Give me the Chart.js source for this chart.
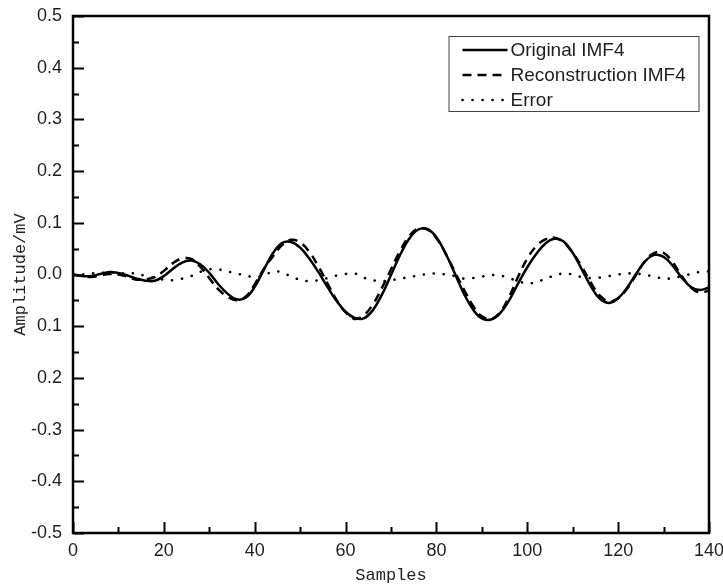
<!DOCTYPE html>
<html>
<head>
<meta charset="utf-8">
<script src="https://cdn.jsdelivr.net/npm/chart.js@4.4.1/dist/chart.umd.min.js"></script>
<style>
  html, body { margin: 0; padding: 0; background: #fff; }
  #wrap { width: 723px; height: 586px; position: relative; }
</style>
</head>
<body>
<div id="wrap"><canvas id="c" width="723" height="586"></canvas></div>
<script>
// ---- data ----
const samples = [0,2,4,6,8,10,12,14,16,18,20,22,24,26,28,30,32,34,36,38,40,42,44,46,48,50,52,54,56,58,60,62,64,66,68,70,72,74,76,78,80,82,84,86,88,90,92,94,96,98,100,102,104,106,108,110,112,114,116,118,120,122,124,126,128,130,132,134,136,138,140];

const originalIMF4 = [0.000,-0.003,-0.003,0.001,0.005,0.003,-0.002,-0.008,-0.012,-0.012,-0.003,0.011,0.023,0.027,0.020,0.003,-0.019,-0.037,-0.048,-0.045,-0.024,0.009,0.041,0.061,0.063,0.052,0.031,0.005,-0.024,-0.051,-0.072,-0.084,-0.085,-0.069,-0.039,-0.001,0.038,0.069,0.087,0.088,0.072,0.041,0.003,-0.036,-0.067,-0.085,-0.087,-0.075,-0.050,-0.017,0.014,0.040,0.060,0.069,0.064,0.042,0.010,-0.023,-0.047,-0.055,-0.046,-0.025,0.002,0.026,0.038,0.034,0.017,-0.006,-0.024,-0.030,-0.025];

const reconstructionIMF4 = [0.000,-0.003,-0.005,-0.002,0.001,0.000,-0.004,-0.010,-0.009,-0.005,0.007,0.022,0.031,0.030,0.015,-0.007,-0.029,-0.043,-0.050,-0.043,-0.019,0.011,0.035,0.057,0.067,0.062,0.044,0.016,-0.017,-0.049,-0.073,-0.086,-0.079,-0.058,-0.026,0.010,0.046,0.074,0.089,0.087,0.070,0.041,0.006,-0.028,-0.060,-0.081,-0.086,-0.073,-0.043,-0.004,0.031,0.055,0.068,0.071,0.062,0.042,0.015,-0.016,-0.041,-0.052,-0.046,-0.027,0.000,0.027,0.042,0.042,0.024,-0.003,-0.025,-0.035,-0.031];

const errorSeries = [0.000,0.000,0.002,0.003,0.004,0.003,0.002,0.002,-0.003,-0.007,-0.010,-0.011,-0.008,-0.003,0.005,0.010,0.010,0.006,0.002,-0.002,-0.005,-0.002,0.006,0.004,-0.004,-0.010,-0.013,-0.011,-0.007,-0.002,0.001,0.002,-0.006,-0.011,-0.013,-0.011,-0.008,-0.005,-0.002,0.001,0.002,0.000,-0.003,-0.008,-0.007,-0.004,-0.001,-0.002,-0.007,-0.013,-0.017,-0.015,-0.008,-0.002,0.002,0.000,-0.005,-0.007,-0.006,-0.003,0.000,0.002,0.002,-0.001,-0.004,-0.008,-0.007,-0.003,0.001,0.005,0.006];

const seriesLabels = ['Original IMF4', 'Reconstruction IMF4', 'Error'];
const yTickLabels = ['-0.5','-0.4','-0.3','0.2','0.1','0.0','0.1','0.2','0.3','0.4','0.5'];
const xTitle = 'Samples';
const yTitle = 'Amplitude/mV';

// ---- helpers ----
function toPoints(values) { return samples.map((s, i) => ({ x: s, y: values[i] })); }

const frameTicksLegend = {
  id: 'frameTicksLegend',
  afterDraw(chart) {
    const { ctx, chartArea: a, scales } = chart;
    const xs = scales.x, ys = scales.y;
    ctx.save();
    ctx.strokeStyle = '#000';
    ctx.lineCap = 'butt';
    // inward ticks
    ctx.lineWidth = 2;
    ctx.beginPath();
    const xt = xs.ticks.map(t => t.value);
    xt.forEach((v, i) => {
      const px = Math.round(xs.getPixelForValue(v)) + 0.5;
      ctx.moveTo(px, a.bottom); ctx.lineTo(px, a.bottom - 11);
      if (i < xt.length - 1) {
        const pm = Math.round(xs.getPixelForValue((v + xt[i + 1]) / 2)) + 0.5;
        ctx.moveTo(pm, a.bottom); ctx.lineTo(pm, a.bottom - 6);
      }
    });
    const yt = ys.ticks.map(t => t.value);
    yt.forEach((v, i) => {
      const py = Math.round(ys.getPixelForValue(v)) + 0.5;
      ctx.moveTo(a.left, py); ctx.lineTo(a.left + 11, py);
      if (i < yt.length - 1) {
        const pm = Math.round(ys.getPixelForValue((v + yt[i + 1]) / 2)) + 0.5;
        ctx.moveTo(a.left, pm); ctx.lineTo(a.left + 6, pm);
      }
    });
    ctx.stroke();
    // frame
    ctx.lineWidth = 2.5;
    ctx.strokeRect(a.left, a.top, a.right - a.left, a.bottom - a.top);

    // legend box
    const bx = a.right - 260.5, by = a.top + 20, bw = 250, bh = 75;
    ctx.lineWidth = 1;
    ctx.strokeStyle = '#444';
    ctx.fillStyle = '#fff';
    ctx.fillRect(bx, by, bw, bh);
    ctx.strokeRect(bx + 0.5, by + 0.5, bw, bh);
    ctx.font = '19px "Liberation Sans", Arial, sans-serif';
    ctx.textBaseline = 'middle';
    ctx.textAlign = 'left';
    chart.data.datasets.forEach((ds, i) => {
      const ry = by + 14 + i * 25;
      ctx.save();
      ctx.strokeStyle = ds.borderColor;
      ctx.lineWidth = ds.borderWidth;
      ctx.lineCap = ds.borderCapStyle || 'butt';
      ctx.setLineDash(ds.borderDash || []);
      ctx.beginPath();
      ctx.moveTo(bx + 14, ry); ctx.lineTo(bx + 59, ry);
      ctx.stroke();
      ctx.restore();
      ctx.fillStyle = '#1e1e1e';
      ctx.fillText(ds.label, bx + 62, ry + 1);
    });
    ctx.restore();
  }
};

new Chart(document.getElementById('c'), {
  type: 'line',
  data: {
    datasets: [
      { label: seriesLabels[0], data: toPoints(originalIMF4), borderColor: '#000', borderWidth: 2.5, pointRadius: 0, tension: 0.4, fill: false },
      { label: seriesLabels[1], data: toPoints(reconstructionIMF4), borderColor: '#000', borderWidth: 2.5, borderDash: [9, 6], pointRadius: 0, tension: 0.4, fill: false },
      { label: seriesLabels[2], data: toPoints(errorSeries), borderColor: '#000', borderWidth: 2.6, borderDash: [0.1, 9.9], borderCapStyle: 'round', pointRadius: 0, tension: 0.4, fill: false }
    ]
  },
  options: {
    responsive: false,
    animation: false,
    devicePixelRatio: 1,
    layout: { autoPadding: false, padding: { left: 0, right: 14, top: 16, bottom: 0 } },
    plugins: { legend: { display: false }, tooltip: { enabled: false } },
    scales: {
      x: {
        type: 'linear', min: 0, max: 140,
        grid: { display: false, drawTicks: false },
        border: { display: false },
        ticks: { stepSize: 20, padding: 7, color: '#1e1e1e', font: { family: '"Liberation Sans", Arial, sans-serif', size: 18 }, maxRotation: 0 },
        title: { display: true, text: xTitle, color: '#222', padding: { top: 0, bottom: 0 }, font: { family: '"Liberation Mono", monospace', size: 17 } },
        afterFit(scale) { scale.height = 53; scale.paddingLeft = 0; scale.paddingRight = 0; }
      },
      y: {
        type: 'linear', min: -0.5, max: 0.5,
        grid: { display: false, drawTicks: false },
        border: { display: false },
        ticks: { stepSize: 0.1, padding: 11, color: '#1e1e1e', font: { family: '"Liberation Sans", Arial, sans-serif', size: 18 },
                 callback: (v, i) => yTickLabels[i] },
        title: { display: true, text: yTitle, color: '#222', padding: { top: 10, bottom: 0 }, font: { family: '"Liberation Mono", monospace', size: 17 } },
        afterFit(scale) { scale.width = 73; scale.paddingTop = 0; scale.paddingBottom = 0; }
      }
    }
  },
  plugins: [frameTicksLegend]
});
</script>
</body>
</html>
